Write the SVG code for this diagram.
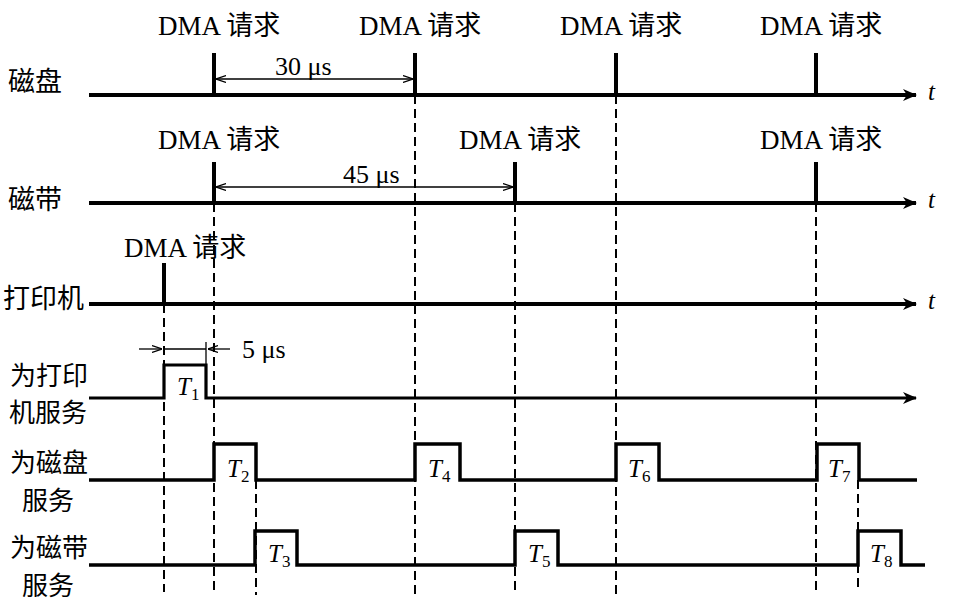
<svg xmlns="http://www.w3.org/2000/svg" width="970" height="607" viewBox="0 0 970 607">
<style>
.lbl{font-family:"Liberation Serif","Noto Sans CJK SC",serif;font-size:27px;fill:#000}
.cn{font-family:"Noto Sans CJK SC",sans-serif;font-size:27px;fill:#000}
.cn2{font-family:"Noto Sans CJK SC",sans-serif;font-size:26px;fill:#000}
.meas{font-family:"Liberation Serif","DejaVu Serif",serif;font-size:26px;fill:#000}
.ti{font-family:"Liberation Serif",serif;font-style:italic;font-size:25px;fill:#000}
.sub{font-style:normal;font-size:17px}
.axis{stroke:#000;stroke-width:4;fill:none}
.tick{stroke:#000;stroke-width:4}
.pulse{stroke:#000;stroke-width:3.5;fill:none;stroke-linejoin:miter}
.dash{stroke:#000;stroke-width:2;stroke-dasharray:9 5}
.thin{stroke:#000;stroke-width:1.3;fill:none}
</style>
<defs>
<marker id="ah" viewBox="0 0 14 12" refX="13" refY="6" markerWidth="14" markerHeight="12" markerUnits="userSpaceOnUse" orient="auto">
<path d="M0,0 L14,6 L0,12 L4,6 Z" fill="#000"/>
</marker>
<marker id="sa" viewBox="0 0 10 8" refX="10" refY="4" markerWidth="10" markerHeight="8" markerUnits="userSpaceOnUse" orient="auto">
<path d="M0,0.5 L10,4 L0,7.5" fill="none" stroke="#000" stroke-width="1.2"/>
</marker>
<marker id="sas" viewBox="0 0 10 8" refX="0" refY="4" markerWidth="10" markerHeight="8" markerUnits="userSpaceOnUse" orient="auto">
<path d="M10,0.5 L0,4 L10,7.5" fill="none" stroke="#000" stroke-width="1.2"/>
</marker>
</defs>

<g id="connectors">
<line class="dash" x1="164" y1="304" x2="164" y2="592"/>
<line class="dash" x1="214" y1="203" x2="214" y2="595"/>
<line class="dash" x1="415" y1="95" x2="415" y2="595"/>
<line class="dash" x1="515" y1="203" x2="515" y2="595"/>
<line class="dash" x1="616" y1="95" x2="616" y2="595"/>
<line class="dash" x1="816" y1="203" x2="816" y2="595"/>
<line class="dash" x1="256" y1="480" x2="256" y2="595"/>
<line class="dash" x1="858" y1="480" x2="858" y2="590"/>
<line class="thin" x1="216" y1="79" x2="413" y2="79" marker-start="url(#sas)" marker-end="url(#sa)"/>
<line class="thin" x1="216" y1="187" x2="513" y2="187" marker-start="url(#sas)" marker-end="url(#sa)"/>
<line class="thin" x1="139" y1="349" x2="162" y2="349" marker-end="url(#sa)"/>
<line class="thin" x1="164" y1="349" x2="206" y2="349"/>
<line class="thin" x1="230" y1="349" x2="208" y2="349" marker-end="url(#sa)"/>
<line class="thin" x1="206" y1="342" x2="206" y2="365"/>
</g>

<g id="disk">
<text class="cn" x="8" y="91">磁盘</text>
<line class="axis" x1="89" y1="95" x2="916" y2="95" marker-end="url(#ah)"/>
<text class="ti" x="928" y="100">t</text>
<line class="tick" x1="214" y1="53" x2="214" y2="95"/>
<line class="tick" x1="415" y1="53" x2="415" y2="95"/>
<line class="tick" x1="616" y1="53" x2="616" y2="95"/>
<line class="tick" x1="816" y1="53" x2="816" y2="95"/>
<text class="lbl" x="158" y="35">DMA 请求</text>
<text class="lbl" x="359" y="35">DMA 请求</text>
<text class="lbl" x="560" y="35">DMA 请求</text>
<text class="lbl" x="760" y="35">DMA 请求</text>
<text class="meas" x="275" y="75">30 μs</text>
</g>

<g id="tape">
<text class="cn" x="8" y="209">磁带</text>
<line class="axis" x1="89" y1="203" x2="916" y2="203" marker-end="url(#ah)"/>
<text class="ti" x="928" y="208">t</text>
<line class="tick" x1="214" y1="162" x2="214" y2="203"/>
<line class="tick" x1="515" y1="162" x2="515" y2="203"/>
<line class="tick" x1="816" y1="162" x2="816" y2="203"/>
<text class="lbl" x="158" y="149">DMA 请求</text>
<text class="lbl" x="459" y="149">DMA 请求</text>
<text class="lbl" x="760" y="149">DMA 请求</text>
<text class="meas" x="343" y="183">45 μs</text>
</g>

<g id="printer">
<text class="cn" x="3" y="308">打印机</text>
<line class="axis" x1="89" y1="304" x2="916" y2="304" marker-end="url(#ah)"/>
<text class="ti" x="928" y="309">t</text>
<line class="tick" x1="164" y1="263" x2="164" y2="304"/>
<text class="lbl" x="124" y="257">DMA 请求</text>
</g>

<g id="printer-service">
<text class="cn2" x="10" y="385">为打印</text>
<text class="cn2" x="9" y="422">机服务</text>
<path class="pulse" d="M89,398 H164 V365 H206 V398 H916" marker-end="url(#ah)" style="stroke-width:3.2"/>
<text class="ti" x="177" y="395">T<tspan class="sub" dy="5">1</tspan></text>
<text class="meas" x="242" y="358">5 μs</text>
</g>

<g id="disk-service">
<text class="cn2" x="10" y="472">为磁盘</text>
<text class="cn2" x="22" y="510">服务</text>
<path class="pulse" d="M89,480 H214 V444 H256 V480 H415 V444 H460 V480 H616 V444 H659 V480 H817 V444 H859 V480 H917"/>
<text class="ti" x="227" y="477">T<tspan class="sub" dy="5">2</tspan></text>
<text class="ti" x="428" y="477">T<tspan class="sub" dy="5">4</tspan></text>
<text class="ti" x="628" y="477">T<tspan class="sub" dy="5">6</tspan></text>
<text class="ti" x="828" y="477">T<tspan class="sub" dy="5">7</tspan></text>
</g>

<g id="tape-service">
<text class="cn2" x="10" y="557">为磁带</text>
<text class="cn2" x="22" y="595">服务</text>
<path class="pulse" d="M89,565 H255 V531 H297 V565 H515 V531 H558 V565 H858 V531 H901 V565 H925"/>
<text class="ti" x="268" y="562">T<tspan class="sub" dy="5">3</tspan></text>
<text class="ti" x="528" y="562">T<tspan class="sub" dy="5">5</tspan></text>
<text class="ti" x="870" y="562">T<tspan class="sub" dy="5">8</tspan></text>
</g>
</svg>
